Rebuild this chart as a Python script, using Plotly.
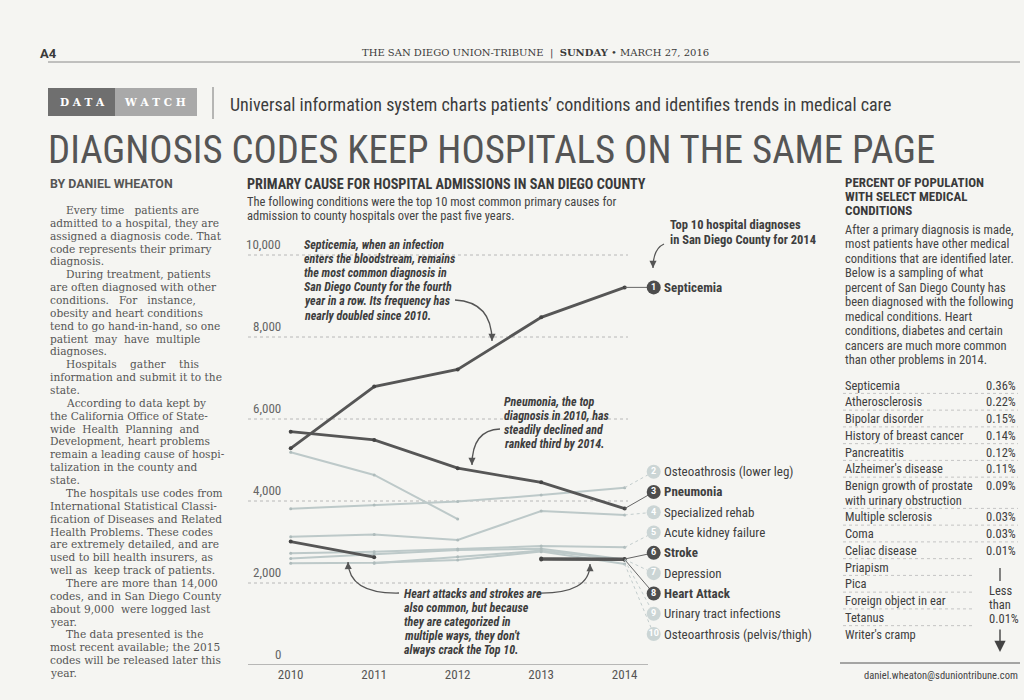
import plotly.graph_objects as go

W, H = 1024, 700

# ---------------- DATA ----------------
years = [2010, 2011, 2012, 2013, 2014]
year_labels = ["2010", "2011", "2012", "2013", "2014"]
y_ticks = [0, 2000, 4000, 6000, 8000, 10000]
y_tick_labels = ["0", "2,000", "4,000", "6,000", "8,000", "10,000"]

septicemia = [5285, 6790, 7210, 8480, 9210]
osteo_lower_leg = [3810, 3900, 3985, 4145, 4325]
pneumonia = [5690, 5490, 4800, 4455, 3815]
specialized_rehab = [3130, 3185, 3050, 3755, 3660]
acute_kidney = [2725, 2765, 2830, 2900, 2870]
stroke = [None, None, None, 2595, 2585]
depression = [2600, 2705, 2805, 2835, 2575]
heart_attack = [3010, 2630, None, 2575, 2570]
uti = [None, 2480, 2640, 2790, 2560]
osteo_pelvis = [2480, 2495, 2560, 2765, 2465]
dropped_after_2012 = [5190, 4635, 3560, None, None]

rank_names = ["Septicemia", "Osteoathrosis (lower leg)", "Pneumonia", "Specialized rehab",
              "Acute kidney failure", "Stroke", "Depression", "Heart Attack",
              "Urinary tract infections", "Osteoarthrosis (pelvis/thigh)"]
rank_values = [septicemia, osteo_lower_leg, pneumonia, specialized_rehab, acute_kidney,
               stroke, depression, heart_attack, uti, osteo_pelvis]
rank_dark = [True, False, True, False, False, True, False, True, False, False]

conditions = ["Septicemia", "Atherosclerosis", "Bipolar disorder", "History of breast cancer",
              "Pancreatitis", "Alzheimer's disease",
              "Benign growth of prostate|with urinary obstruction",
              "Multiple sclerosis", "Coma", "Celiac disease", "Priapism", "Pica",
              "Foreign object in ear", "Tetanus", "Writer's cramp"]
condition_pct = ["0.36%", "0.22%", "0.15%", "0.14%", "0.12%", "0.11%", "0.09%",
                 "0.03%", "0.03%", "0.01%", None, None, None, None, None]

# ---------------- STYLE ----------------
COND = "Liberation Sans Narrow, Roboto Condensed, Arial Narrow, Roboto, sans-serif"
SANS = "Roboto, Liberation Sans, sans-serif"
SERIF = "DejaVu Serif, Liberation Serif, serif"
DARK = "#565656"
LIGHT = "#bdc9c9"
TXT = "#454545"
BG = "#f5f5f2"

fig = go.Figure()
ann = []
shapes = []


def px(x):
    return x / W


def py(y):
    return 1 - y / H


def text(t, x, y, size, color=TXT, family=COND, xanchor="left", yanchor="middle", align="left"):
    ann.append(dict(text=t, x=px(x), y=py(y), xref="paper", yref="paper", xanchor=xanchor,
                    yanchor=yanchor, align=align, showarrow=False,
                    font=dict(size=size, color=color, family=family)))


def lines(ls, x, y0, step, size, color=TXT, family=COND, indent=None, **kw):
    for i, l in enumerate(ls):
        dx = 0
        if indent and i in indent:
            dx = 16
        text(l, x + dx, y0 + i * step, size, color, family, **kw)


def curve(p0, c, p1, color="#555"):
    shapes.append(dict(type="path", xref="paper", yref="paper",
                       path=f"M {px(p0[0])} {py(p0[1])} Q {px(c[0])} {py(c[1])} {px(p1[0])} {py(p1[1])}",
                       line=dict(color=color, width=1.3)))
    dx, dy = c[0] - p1[0], c[1] - p1[1]
    n = (dx * dx + dy * dy) ** 0.5 or 1
    ann.append(dict(text="", x=px(p1[0]), y=py(p1[1]), xref="paper", yref="paper",
                    showarrow=True, ax=dx / n * 7, ay=dy / n * 7, arrowhead=2, arrowsize=1.1,
                    arrowwidth=1.3, arrowcolor=color, standoff=0))


# ---------------- CHART ----------------
X0PX, X1PX, YEARPX, X2010PX = 248, 830, 83.5, 290.7
xr = [2010 - (X2010PX - X0PX) / YEARPX, 2014 + (X1PX - (X2010PX + 4 * YEARPX)) / YEARPX]
ytop, ybot = 238.6, 665
yr = [0, 10400]

series = [(n, v, d) for n, v, d in zip(rank_names, rank_values, rank_dark)]
series.append(("Dropped out of Top 10", dropped_after_2012, False))

for n, v, d in sorted(series, key=lambda s: s[2]):
    fig.add_trace(go.Scatter(
        x=years, y=v, mode="lines+markers", name=n, connectgaps=False,
        line=dict(color=DARK if d else LIGHT, width=2.8 if d else 2.0),
        marker=dict(size=4 if d else 3, color="#444" if d else "#aebbbb"),
        hoverinfo="skip", showlegend=False))

label_x = 2014 + 29 / YEARPX
label_y = [septicemia[-1]] + [4715 - 495 * k for k in range(9)]
for i, (n, v, d) in enumerate(zip(rank_names, rank_values, rank_dark)):
    fig.add_trace(go.Scatter(
        x=[2014, label_x - 0.07 if i == 0 else label_x], y=[v[-1], label_y[i]], mode="lines",
        line=dict(color="#666" if d else "#c3cdcd", width=1, dash="solid" if d else "dot"),
        hoverinfo="skip", showlegend=False))

fig.add_trace(go.Scatter(
    x=[label_x] * 10, y=label_y, mode="markers+text",
    text=[str(i + 1) for i in range(10)], textposition="middle center",
    textfont=dict(size=9, color="white", family="Roboto, sans-serif", weight="bold"),
    marker=dict(size=14, color=["#4d4d4d" if d else "#cbd5d5" for d in rank_dark], line=dict(width=0)),
    hoverinfo="skip", showlegend=False))

for i, (n, d) in enumerate(zip(rank_names, rank_dark)):
    ann.append(dict(text=f"<b>{n}</b>" if d else n, x=label_x, y=label_y[i], xref="x", yref="y",
                    xanchor="left", yanchor="middle", xshift=8, showarrow=False,
                    font=dict(size=13, color="#404040", family=COND)))

# grid + baseline
for v in y_ticks[1:]:
    shapes.append(dict(type="line", xref="paper", yref="y", x0=px(248), x1=px(628), y0=v, y1=v,
                       line=dict(color="#b8b8b8", width=1, dash="dot"), layer="below"))
shapes.append(dict(type="line", xref="paper", yref="y", x0=px(248), x1=px(648), y0=0, y1=0,
                   line=dict(color="#7a7a7a", width=1.2)))
for v, t in zip(y_ticks, y_tick_labels):
    ann.append(dict(text=t, x=px(283), y=v, xref="paper", yref="y", xanchor="right",
                    yanchor="bottom", yshift=1, showarrow=False,
                    font=dict(size=13, color="#666", family=COND)))

# chart annotations
AN = "#3e3e3e"
lines(["<b><i>Septicemia, when an infection</i></b>", "<b><i>enters the bloodstream, remains</i></b>",
       "<b><i>the most common diagnosis in</i></b>", "<b><i>San Diego County for the fourth</i></b>",
       "<b><i>year in a row. Its frequency has</i></b>", "<b><i>nearly doubled since 2010.</i></b>"],
      302, 245, 14.1, 12, AN)
lines(["<b><i>Pneumonia, the top</i></b>", "<b><i>diagnosis in 2010, has</i></b>",
       "<b><i>steadily declined and</i></b>", "<b><i>ranked third by 2014.</i></b>"],
      502, 402, 14.1, 12, AN)
lines(["<b><i>Heart attacks and strokes are</i></b>", "<b><i>also common, but because</i></b>",
       "<b><i>they are categorized in</i></b>", "<b><i>multiple ways, they don't</i></b>",
       "<b><i>always crack the Top 10.</i></b>"],
      402, 594, 14.1, 12, AN)
lines(["<b>Top 10 hospital diagnoses</b>", "<b>in San Diego County for 2014</b>"], 668, 225, 14.5, 12.5, AN)

curve((455, 300), (492, 302), (492, 341))
curve((500, 429), (472, 430), (472, 465))
curve((399, 593), (349, 594), (348, 562))
curve((538, 593), (590, 594), (590, 564))
curve((664, 244), (653, 249), (653, 268))

# ---------------- PAGE ----------------
text("<b>A4</b>", 38, 53, 13, "#3a3a3a", SANS)
text("THE SAN DIEGO UNION-TRIBUNE  |  <b>SUNDAY</b> • MARCH 27, 2016", 535, 53, 10, "#3a3a3a",
     SERIF, xanchor="center")
shapes.append(dict(type="line", xref="paper", yref="paper", x0=px(48), x1=px(1020), y0=py(62),
                   y1=py(62), line=dict(color="#8a8a8a", width=1)))

shapes.append(dict(type="rect", xref="paper", yref="paper", x0=px(48), x1=px(115), y0=py(116),
                   y1=py(88), fillcolor="#6f6f6f", line=dict(width=0)))
shapes.append(dict(type="rect", xref="paper", yref="paper", x0=px(115), x1=px(197), y0=py(116),
                   y1=py(88), fillcolor="#a9a9a9", line=dict(width=0)))
text("<b>D A T A</b>", 82, 102, 10.5, "white", SERIF, xanchor="center")
text("<b>W A T C H</b>", 155, 102, 10.5, "white", SERIF, xanchor="center")
shapes.append(dict(type="line", xref="paper", yref="paper", x0=px(213), x1=px(213), y0=py(87),
                   y1=py(119), line=dict(color="#777", width=1)))
text("Universal information system charts patients\u2019 conditions and identifies trends in medical care",
     228, 104, 18, "#3c3c3c", COND)
text("DIAGNOSIS CODES KEEP HOSPITALS ON THE SAME PAGE", 46, 149, 38.8, "#555", COND)

text("<b>BY DANIEL WHEATON</b>", 48, 183, 12.4, "#555", SANS)
text("<b>PRIMARY CAUSE FOR HOSPITAL ADMISSIONS IN SAN DIEGO COUNTY</b>", 245, 184, 14.2, "#3a3a3a", COND)
lines(["The following conditions were the top 10 most common primary causes for",
       "admission to county hospitals over the past five years."], 245, 201, 14.2, 12.5, "#444")

body = ["Every time   patients are", "admitted to a hospital, they are", "assigned a diagnosis code. That",
        "code represents their primary", "diagnosis.", "During treatment, patients",
        "are often diagnosed with other", "conditions.   For   instance,", "obesity and heart conditions",
        "tend to go hand-in-hand, so one", "patient  may  have  multiple", "diagnoses.",
        "Hospitals    gather    this", "information and submit it to the", "state.",
        "According to data kept by", "the California Office of State-", "wide  Health  Planning  and",
        "Development, heart problems", "remain a leading cause of hospi-", "talization in the county and",
        "state.", "The hospitals use codes from", "International Statistical Classi-",
        "fication of Diseases and Related", "Health Problems. These codes", "are extremely detailed, and are",
        "used to bill health insurers, as", "well as  keep track of patients.", "There are more than 14,000",
        "codes, and in San Diego County", "about 9,000  were logged last", "year.",
        "The data presented is the", "most recent available; the 2015", "codes will be released later this",
        "year."]
lines(body, 48, 210, 12.86, 10.6, "#555", SERIF, indent={0, 5, 12, 15, 22, 29, 33})

lines(["<b>PERCENT OF POPULATION</b>", "<b>WITH SELECT MEDICAL</b>", "<b>CONDITIONS</b>"],
      843, 182, 14, 13, "#3a3a3a")
lines(["After a primary diagnosis is made,", "most patients have other medical",
       "conditions that are identified later.", "Below is a sampling of what",
       "percent of San Diego County has", "been diagnosed with the following",
       "medical conditions. Heart", "conditions, diabetes and certain",
       "cancers are much more common", "than other problems in 2014."],
      843, 229, 14.55, 12.5, "#444")

ry = 385
for idx, (name, pct) in enumerate(zip(conditions, condition_pct)):
    parts = name.split("|")
    for k, part in enumerate(parts):
        text(part, 843, ry + 14.5 * k, 12.5, "#3e3e3e", COND)
    if pct:
        text(pct, 1018, ry, 12.5, "#3e3e3e", COND, xanchor="right")
    extra = 14.5 * (len(parts) - 1)
    sep = ry + extra + 8.4
    if idx < len(conditions) - 1:
        nxt = condition_pct[idx + 1]
        x_end = 1018 if (pct and nxt) else 975
        shapes.append(dict(type="line", xref="paper", yref="paper", x0=px(843), x1=px(x_end),
                           y0=py(sep), y1=py(sep), line=dict(color="#c4c4c4", width=1, dash="dot")))
    ry += 16.75 + extra

shapes.append(dict(type="line", xref="paper", yref="paper", x0=px(1000), x1=px(1000), y0=py(568),
                   y1=py(581), line=dict(color="#444", width=1.3)))
lines(["Less", "than", "0.01%"], 987, 590, 14, 12.5, "#3e3e3e")
ann.append(dict(text="", x=px(1000), y=py(652), xref="paper", yref="paper", showarrow=True,
                ax=0, ay=-24, arrowhead=2, arrowsize=1.6, arrowwidth=1.4, arrowcolor="#444", standoff=0))
shapes.append(dict(type="line", xref="paper", yref="paper", x0=px(840), x1=px(1020), y0=py(663),
                   y1=py(663), line=dict(color="#555", width=1)))
text("daniel.wheaton@sduniontribune.com", 1020, 675, 10.5, "#444", COND, xanchor="right")

fig.update_layout(
    width=W, height=H, autosize=False, margin=dict(l=0, r=0, t=0, b=0),
    paper_bgcolor=BG, plot_bgcolor="rgba(0,0,0,0)", hovermode=False,
    xaxis=dict(domain=[px(X0PX), px(X1PX)], range=xr, showgrid=False, zeroline=False,
               showline=False, tickvals=years, ticktext=year_labels, ticks="",
               tickfont=dict(size=13, color="#555", family=COND), fixedrange=True),
    yaxis=dict(domain=[py(ybot), py(ytop)], range=yr, showgrid=False, zeroline=False,
               showticklabels=False, fixedrange=True),
    annotations=ann, shapes=shapes,
)

fig.write_html("out.html", config={"displayModeBar": False},
               post_script="document.body.style.margin='0';")
